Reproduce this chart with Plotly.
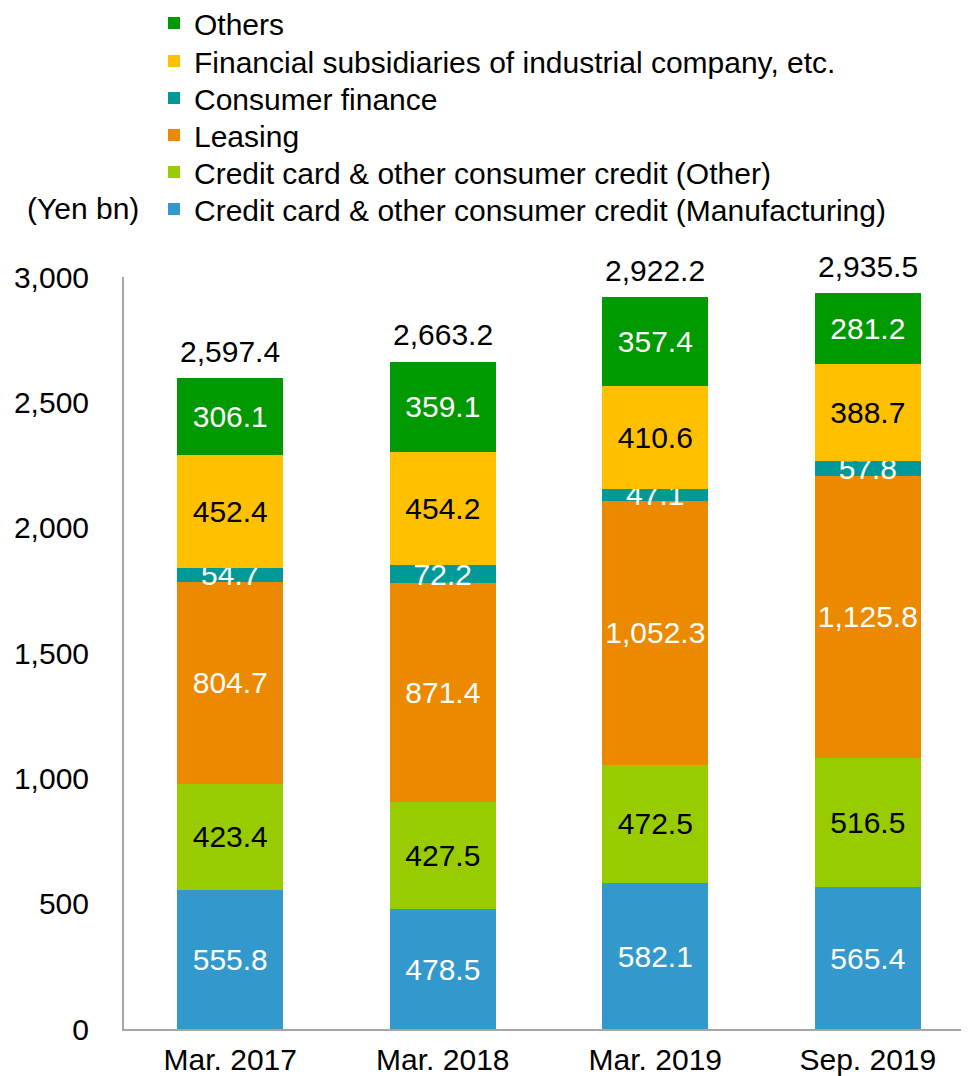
import plotly.graph_objects as go

categories = ["Mar. 2017", "Mar. 2018", "Mar. 2019", "Sep. 2019"]
manufacturing = [555.8, 478.5, 582.1, 565.4]
cc_other = [423.4, 427.5, 472.5, 516.5]
leasing = [804.7, 871.4, 1052.3, 1125.8]
consumer_finance = [54.7, 72.2, 47.1, 57.8]
fin_subs = [452.4, 454.2, 410.6, 388.7]
others = [306.1, 359.1, 357.4, 281.2]
totals = [2597.4, 2663.2, 2922.2, 2935.5]

series = [
    ("Credit card & other consumer credit (Manufacturing)", manufacturing, "#3399CC", "white"),
    ("Credit card & other consumer credit (Other)", cc_other, "#99CC00", "black"),
    ("Leasing", leasing, "#EB8A00", "white"),
    ("Consumer finance", consumer_finance, "#009999", "white"),
    ("Financial subsidiaries of industrial company, etc.", fin_subs, "#FFC000", "black"),
    ("Others", others, "#009900", "white"),
]

FONT = "Liberation Sans, Arial, sans-serif"
FS = 30
LFS = 30

# page offset (body margin) compensation: figure starts 8px in from the window edge
OFF = 8
W, H = 969 - OFF, 1076 - OFF
PL, PR, PT, PB = 124, 969, 277, 1029  # plot area in window pixels
PH = PB - PT
PW = PR - PL

legend_rows = [209, 172, 135, 98, 61, 23]  # window y of each legend row (Manufacturing..Others)

fig = go.Figure()
for i, (name, vals, color, tcolor) in enumerate(series):
    lg = "legend" if i == 0 else f"legend{i + 1}"
    fig.add_trace(go.Bar(
        x=categories, y=vals, name=name, legend=lg,
        marker=dict(color=color, line=dict(width=0)),
        texttemplate="%{y:,.1f}", textposition="inside",
        insidetextanchor="middle", textangle=0,
        textfont=dict(color=tcolor, size=FS, family=FONT),
        width=0.5,
    ))

legends = {}
for i, ry in enumerate(legend_rows):
    lg = "legend" if i == 0 else f"legend{i + 1}"
    legends[lg] = dict(
        x=(154 - PL) / PW, xanchor="left",
        y=(PB - ry) / PH, yanchor="middle",
        font=dict(size=LFS, family=FONT, color="black"),
        bgcolor="rgba(0,0,0,0)", itemwidth=30,
    )

for c, t in zip(categories, totals):
    fig.add_annotation(x=c, y=t, text=f"{t:,.1f}", showarrow=False,
                       yanchor="bottom", yshift=8,
                       font=dict(size=FS, color="black", family=FONT))

fig.add_annotation(xref="paper", yref="paper", x=(141 - PL) / PW, y=(PB - 209) / PH,
                   xanchor="right", yanchor="middle", text="(Yen bn)", showarrow=False,
                   font=dict(size=LFS, color="black", family=FONT))

fig.update_layout(
    width=W, height=H,
    margin=dict(l=PL - OFF, r=969 - PR, t=PT - OFF, b=1076 - PB, autoexpand=False),
    barmode="stack", bargap=0.5,
    plot_bgcolor="white", paper_bgcolor="white",
    font=dict(family=FONT, size=FS, color="black"),
    uniformtext=dict(minsize=FS, mode="show"),
    showlegend=True,
    xaxis=dict(range=[-0.5, 3.476], showline=True, linecolor="#A6A6A6", linewidth=2,
               ticks="", showgrid=False, tickfont=dict(size=FS, family=FONT),
               ticklabelstandoff=3),
    yaxis=dict(range=[0, 3000], dtick=500, tickformat=",", showline=True,
               linecolor="#A6A6A6", linewidth=2, ticks="", showgrid=False,
               zeroline=False, tickfont=dict(size=FS, family=FONT),
               ticklabelstandoff=27),
    **legends,
)

fig.write_html("out.html")
